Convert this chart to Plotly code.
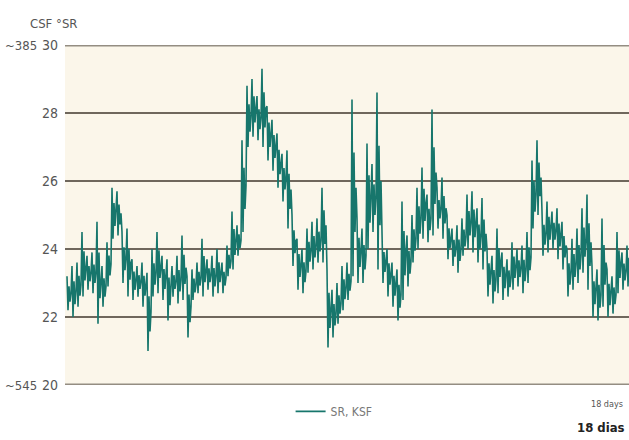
import plotly.graph_objects as go

# Envelope of the noisy SR KSF trace, read column by column (~5 px steps)
sr_low = [22.2, 22.0, 22.3, 22.6, 22.8, 22.7, 21.8, 22.3, 22.9, 24.3,
          24.4, 23.0, 22.6, 22.5, 22.6, 22.3, 21.0, 22.6, 22.7, 22.5,
          21.9, 22.6, 22.4, 22.5, 21.4, 22.5, 22.7, 22.6, 22.8, 22.6,
          22.7, 22.7, 23.2, 23.4, 23.8, 24.5, 27.0, 27.3, 27.2, 27.0,
          26.6, 26.3, 25.8, 25.4, 24.6, 23.5, 22.8, 22.7, 23.3, 23.4,
          23.6, 23.6, 21.1, 21.4, 21.8, 22.2, 22.5, 23.2, 23.0, 23.0,
          24.0, 24.5, 23.4, 23.0, 22.6, 22.3, 21.9, 22.5, 22.9, 23.6,
          24.0, 24.3, 24.2, 24.4, 24.6, 24.3, 23.7, 23.5, 23.3, 23.8,
          24.0, 23.9, 23.6, 23.4, 22.6, 22.4, 22.7, 22.5, 22.6, 22.8,
          22.9, 22.7, 23.0, 24.6, 25.0, 23.8, 23.9, 24.0, 23.7, 23.4,
          22.6, 22.8, 23.0, 23.3, 22.8, 22.0, 21.9, 22.3, 22.0, 22.1,
          22.7, 22.8, 22.9]
sr_high = [23.2, 23.5, 23.6, 24.5, 23.8, 23.9, 24.8, 23.5, 24.2, 25.8,
           25.7, 24.5, 24.6, 23.7, 23.5, 23.6, 23.3, 24.0, 24.5, 23.8,
           23.7, 23.5, 23.8, 24.4, 23.2, 23.4, 23.6, 24.3, 23.7, 23.8,
           24.0, 23.6, 24.1, 25.1, 24.7, 27.2, 28.8, 29.0, 28.5, 29.3,
           28.2, 27.8, 27.4, 26.8, 26.9, 25.0, 24.3, 24.0, 24.6, 24.8,
           24.9, 25.8, 23.4, 22.8, 23.0, 23.5, 23.6, 28.4, 24.9, 24.6,
           27.1, 26.5, 28.6, 24.3, 24.0, 23.6, 23.4, 25.4, 24.4, 25.0,
           25.8, 26.4, 25.6, 28.1, 25.8, 26.1, 25.0, 24.6, 24.7, 24.9,
           25.6, 25.7, 25.2, 25.5, 24.0, 23.8, 24.6, 23.9, 23.7, 24.2,
           24.0, 24.1, 24.5, 26.6, 27.2, 25.1, 25.4, 25.1, 25.2, 24.8,
           24.0, 24.3, 24.6, 25.2, 25.6, 23.5, 23.4, 24.9, 23.4, 23.2,
           24.5, 23.9, 24.1]

y_ticks = [20, 22, 24, 26, 28, 30]

xs, ys = [], []
for i, (lo, hi) in enumerate(zip(sr_low, sr_high)):
    xs += [i, i + 0.2, i + 0.4, i + 0.6, i + 0.8]
    ys += [hi, lo, hi - (hi - lo) * 0.3, lo + (hi - lo) * 0.25, hi - (hi - lo) * 0.5]

fig = go.Figure()
fig.add_trace(go.Scatter(x=xs, y=ys, mode="lines", name="SR, KSF",
                         line=dict(color="#17766c", width=1.6)))

font = "DejaVu Sans Condensed, Liberation Sans Narrow, sans-serif"

fig.update_layout(
    width=629, height=440,
    margin=dict(l=65, r=0, t=45, b=55),
    paper_bgcolor="white",
    plot_bgcolor="#fbf6ea",
    showlegend=True,
    legend=dict(orientation="h", x=0.40, y=-0.035, xanchor="left", yanchor="top",
                font=dict(family=font, size=12, color="#777"),
                bgcolor="rgba(0,0,0,0)"),
    xaxis=dict(range=[-0.4, 112.4], showgrid=False, zeroline=False,
               showticklabels=False, showline=False, ticks=""),
    yaxis=dict(range=[20, 30], tickvals=y_ticks,
               ticktext=[str(v) for v in y_ticks],
               showgrid=True, gridcolor="#6f675c", gridwidth=2,
               zeroline=False, showline=False, ticks="",
               tickfont=dict(family=font, size=14, color="#555"),
               ticklabelstandoff=6),
)

for yv in (20, 30):
    fig.add_shape(type="line", xref="paper", yref="y", x0=0, x1=1, y0=yv, y1=yv,
                  line=dict(color="#948d82", width=3), layer="below")

fig.add_annotation(x=0, y=1, xref="paper", yref="paper", xanchor="right", yanchor="bottom",
                   xshift=14, yshift=12, text="CSF °SR", showarrow=False,
                   font=dict(family=font, size=13, color="#555"))
fig.add_annotation(x=0, y=30, xref="paper", yref="y", xanchor="right", yanchor="middle",
                   xshift=-26, text="~385", showarrow=False,
                   font=dict(family=font, size=13, color="#555"))
fig.add_annotation(x=0, y=20, xref="paper", yref="y", xanchor="right", yanchor="middle",
                   xshift=-26, text="~545", showarrow=False,
                   font=dict(family=font, size=13, color="#555"))
fig.add_annotation(x=1, y=0, xref="paper", yref="paper", xanchor="right", yanchor="top",
                   xshift=-4, yshift=-12, text="18 days", showarrow=False,
                   font=dict(family=font, size=9, color="#555"))
fig.add_annotation(x=1, y=0, xref="paper", yref="paper", xanchor="right", yanchor="top",
                   xshift=-2, yshift=-33, text="<b>18 dias</b>", showarrow=False,
                   font=dict(family=font, size=13, color="#222"))

fig.write_html("out.html")
